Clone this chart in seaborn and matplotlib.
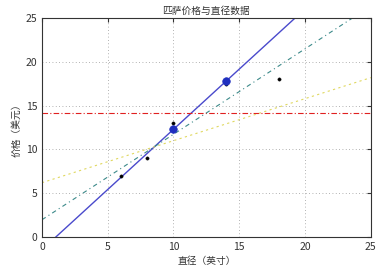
import matplotlib
matplotlib.use("Agg")
import matplotlib.pyplot as plt
import seaborn as sns
import numpy as np
import pandas as pd

# data
diameter = [6, 8, 10, 14, 18]
price = [7, 9, 13, 17.5, 18]
test_x = [10, 14]
test_y = [12.3, 17.8]
line_x = [0, 25]
# fitted lines: (intercept, slope)
fit_blue = (-1.45, 1.375)
fit_red = (14.2, 0.0)
fit_yellow = (6.2, 0.48)
fit_green = (1.97, 0.976)

sns.set_style("white")
plt.rcParams['font.family'] = ['Noto Sans CJK SC', 'DejaVu Sans']

fig = plt.figure(figsize=(3.92, 2.74), dpi=100)
ax = fig.add_axes([0.107, 0.135, 0.839, 0.799])

def line(fit):
    xs = np.array(line_x, dtype=float)
    return pd.DataFrame({"x": xs, "y": fit[0] + fit[1] * xs})

d = line(fit_blue)
sns.lineplot(data=d, x="x", y="y", ax=ax, color="#4a4acc", lw=1.0)
d = line(fit_red)
sns.lineplot(data=d, x="x", y="y", ax=ax, color="#e02020", lw=0.8, linestyle=(0, (5, 2, 1, 2)))
d = line(fit_yellow)
sns.lineplot(data=d, x="x", y="y", ax=ax, color="#e0d860", lw=0.8, linestyle=(0, (2, 3)))
d = line(fit_green)
sns.lineplot(data=d, x="x", y="y", ax=ax, color="#3c8a8a", lw=0.8, linestyle=(0, (4, 3, 1, 3)))

sns.scatterplot(x=diameter, y=price, ax=ax, color="black", s=6, edgecolor="black", zorder=5)
sns.scatterplot(x=test_x, y=test_y, ax=ax, color="#1f2fbf", s=30, edgecolor="#1f2fbf", zorder=6)

ax.set_xlim(0, 25)
ax.set_ylim(0, 25)
ax.set_xticks([0, 5, 10, 15, 20, 25])
ax.set_yticks([0, 5, 10, 15, 20, 25])
ax.grid(True, color="#999999", linestyle=(0, (1, 3)), lw=0.6)
for s in ax.spines.values():
    s.set_color("#333333")
    s.set_linewidth(0.8)
ax.tick_params(direction="in", length=3, labelsize=7.5, colors="#333333", top=True, right=True)
ax.set_title("匹萨价格与直径数据", fontsize=7, color="#333333", pad=3)
ax.set_xlabel("直径（英寸）", fontsize=7, color="#333333", labelpad=3)
ax.set_ylabel("价格（美元）", fontsize=7, color="#333333", labelpad=3)

fig.savefig("out.png", dpi=100)
